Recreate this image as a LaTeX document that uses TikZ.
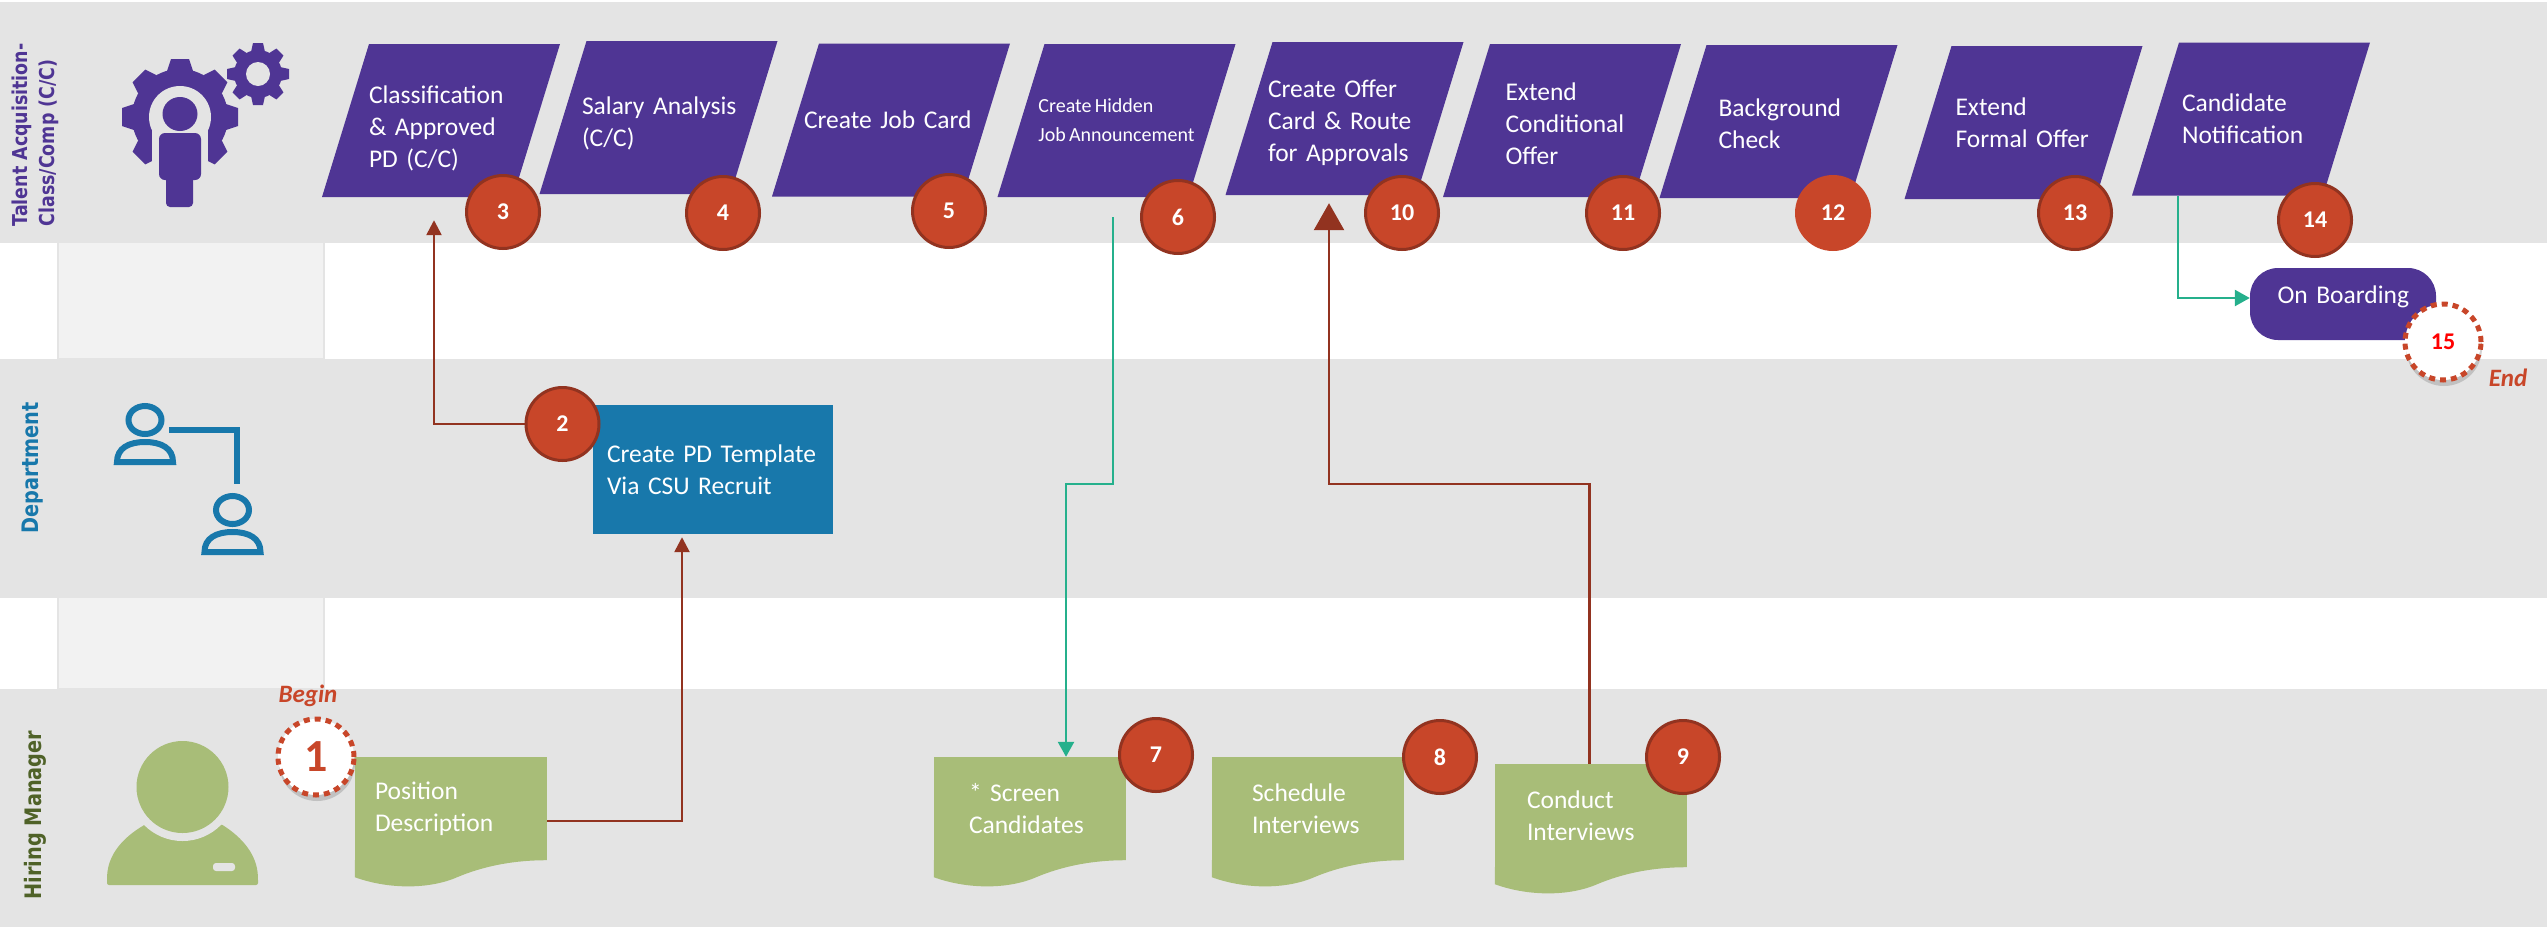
\documentclass[tikz,border=0pt]{standalone}
\usepackage{fontspec}
\setmainfont{Carlito}[WordSpace=0.7]
\newfontfamily\lanefont{DejaVu Sans}[FakeStretch=0.85]
\usetikzlibrary{arrows.meta,shadows}

\begin{document}
\begin{tikzpicture}[x=1pt,y=-1pt]
    \definecolor{hire_band}{HTML}{E4E4E4}
    \definecolor{hire_column}{HTML}{F2F2F2}
    \definecolor{hire_purple}{HTML}{4F3594}
    \definecolor{hire_blue}{HTML}{1878AB}
    \definecolor{hire_green}{HTML}{A8BD78}
    \definecolor{hire_olive}{HTML}{4F6228}
    \definecolor{hire_red}{HTML}{C84629}
    \definecolor{hire_edge}{HTML}{923320}
    \definecolor{hire_teal}{HTML}{25B08C}
    \tikzset{
        stepbox/.style={shape=rectangle,text=white,inner sep=0pt,minimum width=238pt,minimum height=153pt,align=left,font=\fontsize{25.5}{32}\selectfont,
            path picture={\fill[hire_purple] ([xshift=47pt]path picture bounding box.north west) -- (path picture bounding box.north east) -- ([xshift=-47pt]path picture bounding box.south east) -- (path picture bounding box.south west) -- cycle;}},
        docbox/.style={shape=rectangle,fill=hire_green,text=white,inner sep=0pt,minimum width=192pt,minimum height=103pt,align=left,font=\fontsize{25.5}{32}\selectfont},
        numdot/.style={shape=circle,draw=hire_edge,fill=hire_red,line width=3pt,inner sep=0pt,minimum size=73pt,text=white,font=\bfseries\fontsize{24}{24}\selectfont},
        startdot/.style={shape=circle,draw=hire_red,fill=white,line width=5pt,dash pattern=on 6pt off 5pt,inner sep=0pt,minimum size=76pt,drop shadow={shadow xshift=1pt,shadow yshift=-6pt,opacity=0.35},font=\bfseries},
        lanelabel/.style={rotate=90,align=left,font=\lanefont\bfseries\fontsize{22.7}{27}\selectfont},
        beginend/.style={text=hire_red,font=\bfseries\itshape\fontsize{25}{25}\selectfont},
        brownline/.style={draw=hire_edge,line width=2.5pt,-{Triangle[length=15pt,width=15pt]}},
        tealline/.style={draw=hire_teal,line width=2.5pt,-{Triangle[length=15pt,width=16pt]}}
    }
    \useasboundingbox (0,0) rectangle (2547,927);

    % lanes
    \fill[hire_band] (0,2) rectangle (2547,243);
    \fill[hire_band] (0,359) rectangle (2547,598);
    \fill[hire_band] (0,689) rectangle (2547,927);
    \foreach \ytop/\ybot in {243/359,598/689}
        \draw[draw=hire_band,line width=2pt,fill=hire_column] (58,\ytop) -- (58,\ybot) -- (324,\ybot) -- (324,\ytop);

    % gears and person
    \foreach \a in {0,45,...,315} {
        \fill[hire_purple,shift={(180,117)},rotate=\a] (-13,-46) -- (-9,-58) -- (9,-58) -- (13,-46) -- cycle;
        \fill[hire_purple,shift={(258,74)},rotate=\a] (-7,-22) -- (-5,-31) -- (5,-31) -- (7,-22) -- cycle;
    }
    \fill[hire_purple] (180,117) circle (48);
    \fill[hire_band] (180,117) circle (31);
    \fill[hire_band] (152,117) rectangle (208,172);
    \fill[hire_purple] (258,74) circle (24);
    \fill[hire_band] (258,74) circle (12);
    \fill[hire_purple] (180,114) ellipse (17.5 and 17);
    \fill[hire_purple,rounded corners=6pt] (159,180) -- (159,133) -- (201,133) -- (201,180) -- cycle;
    \fill[hire_purple,rounded corners=4pt] (166,170) rectangle (193,207);

    % department people
    \foreach \px/\py in {145/420,232.5/510} {
        \draw[hire_blue,line width=6pt] (\px,\py) ellipse (16.5 and 14);
        \draw[hire_blue,line width=6pt] (\px-28,\py+42) .. controls (\px-28,\py+28) and (\px-16,\py+22) .. (\px,\py+22) .. controls (\px+16,\py+22) and (\px+28,\py+28) .. (\px+28,\py+42) -- cycle;
    }
    \draw[hire_blue,line width=6pt] (169,430) -- (236.5,430) -- (236.5,484);

    % hiring manager
    \fill[hire_green,rounded corners=2pt] (107,885) -- (107,878) .. controls (108,855) and (122,838) .. (146,824) -- (221,824) .. controls (243,838) and (257,855) .. (258,878) -- (258,885) -- cycle;
    \fill[hire_band] (182.5,787) circle (54);
    \fill[hire_green] (182.5,787) circle (46);
    \fill[hire_band,rounded corners=3pt] (213,863) rectangle (235,871);

    \node[lanelabel,text=hire_purple,font=\lanefont\bfseries\fontsize{20.5}{27}\selectfont] (lane_ta) at (35,135) {Talent Acquisition-\\Class/Comp (C/C)};
    \node[lanelabel,text=hire_blue]   (lane_dep)  at (33,468)   {Department};
    \node[lanelabel,text=hire_olive]  (lane_hire) at (35,815)   {Hiring Manager};

    % steps
    \node[stepbox,text width=144pt] (s3)  at (441,120.5)    {\rule{0pt}{34pt}Classification\\\& Approved\\PD (C/C)};
    \node[stepbox,text width=153pt] (s4)  at (658.5,117.5)  {\rule{0pt}{29pt}\mbox{Salary Analysis}\\(C/C)};
    \node[stepbox,text width=174pt] (s5)  at (891,120)      {Create Job Card};
    \node[stepbox,font=\fontsize{20}{29}\selectfont] (s6) at (1116.5,120.5) {Create Hidden\\Job Announcement};
    \node[stepbox,text width=153pt] (s10) at (1344.5,118.5) {\rule{0pt}{26pt}Create Offer\\Card \& Route\\for Approvals};
    \node[stepbox,text width=113pt] (s11) at (1562,120.5)   {\rule{0pt}{24pt}Extend\\Conditional\\Offer};
    \node[stepbox,text width=120pt] (s12) at (1778.5,121.5) {\rule{0pt}{22pt}Background\\Check};
    \node[stepbox,text width=136pt] (s13) at (2023.5,122.5) {Extend\\Formal Offer};
    \node[stepbox,text width=138pt] (s14) at (2251,119)     {Candidate\\Notification};

    \node[shape=rectangle,fill=hire_blue,text=white,inner sep=0pt,minimum width=240pt,minimum height=129pt,text width=212pt,align=left,font=\fontsize{25.5}{32}\selectfont] (pd) at (713,469.5) {Create PD Template\\Via CSU Recruit};
    \node[shape=rectangle,rounded corners=28pt,fill=hire_purple,text=white,inner sep=0pt,minimum width=186pt,minimum height=72pt,text width=131pt,align=left,font=\fontsize{25.5}{32}\selectfont] (board) at (2343,304) {\mbox{On Boarding}\par\vspace*{14pt}};

    % documents
    \node[docbox,text width=152pt] (d1) at (451,808.5)  {Position\\Description};
    \node[docbox,text width=122pt] (d7) at (1030,808.5) {* Screen\\Candidates};
    \node[docbox,text width=112pt] (d8) at (1308,808.5) {Schedule\\Interviews};
    \node[docbox,text width=128pt] (d9) at (1591,815.5) {Conduct\\Interviews};
    \foreach \doc in {d1,d7,d8,d9}
        \fill[hire_green] (\doc.south west) -- ++(0,17) .. controls +(30,11) and +(-30,12) .. ++(100,1) .. controls +(30,-13) and +(-31,0) .. ++(92,-18) -- cycle;

    % numbers
    \node[numdot] (c2)  at (562.5,424) {2};
    \node[numdot] (c3)  at (503,212)   {3};
    \node[numdot] (c4)  at (723,213)   {4};
    \node[numdot] (c5)  at (949,211)   {5};
    \node[numdot] (c6)  at (1178,217)  {6};
    \node[numdot] (c7)  at (1156,755)  {7};
    \node[numdot] (c8)  at (1440,757)  {8};
    \node[numdot] (c9)  at (1683,757)  {9};
    \node[numdot] (c10) at (1402,213)  {10};
    \node[numdot] (c11) at (1623,213)  {11};
    \node[numdot,draw=hire_red] (c12) at (1833,213) {12};
    \node[numdot] (c13) at (2075,213)  {13};
    \node[numdot] (c14) at (2315,220)  {14};
    \node[startdot,text=hire_red,font=\bfseries\fontsize{46}{46}\selectfont] (c1) at (316,757) {1};
    \node[startdot,text=red,font=\bfseries\fontsize{24}{24}\selectfont] (c15) at (2443,342) {15};
    \node[beginend] (begin) at (308,696)  {Begin};
    \node[beginend] (end)   at (2508,378) {End};

    % connectors
    \coordinate (bend7) at (1066,484);
    \coordinate (bend10) at (1329,484);
    \draw[brownline,shorten >=3pt] ([yshift=-12.5pt]d1.east) -| ([xshift=-31pt]pd.south);
    \draw[brownline,shorten >=23pt] (c2.west) -| ([xshift=-7pt]s3.south);
    \draw[tealline] ([xshift=-3.5pt,yshift=-20pt]s6.south) |- (bend7) -- (bend7 |- d7.north);
    \draw[brownline,-{Bar[width=0pt,line width=0pt,sep=6pt]Triangle[length=27pt,width=30pt]},shorten >=8pt] ([xshift=-1.5pt]d9.north) |- (bend10) -- (bend10 |- s10.south);
    \draw[tealline,-{Bar[width=0pt,line width=0pt,sep=6pt]Triangle[length=15pt,width=16pt]}] ([xshift=-73pt]s14.south) |- ([yshift=6pt]board.west);
\end{tikzpicture}
\end{document}
